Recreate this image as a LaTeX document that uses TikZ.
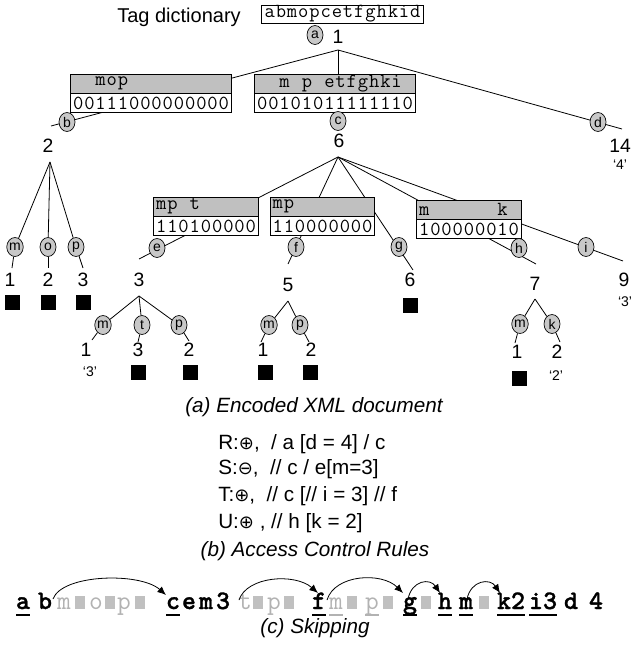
\documentclass[tikz,border=0pt]{standalone}
\usepackage{fontspec}
\setmainfont{Liberation Sans}
\newfontfamily\symf{DejaVu Sans}
\newfontfamily\rowbf{lmmonolt10-bold.otf}[FakeBold=1.2]
\usetikzlibrary{shapes.geometric,arrows.meta}
\pgfdeclarelayer{bg}
\pgfsetlayers{bg,main}
\definecolor{ellg}{RGB}{200,200,200}
\definecolor{hdrg}{RGB}{192,192,192}
\definecolor{lig}{RGB}{178,178,178}
\definecolor{sqg}{RGB}{192,192,192}
\newlength\pitchlen \setlength\pitchlen{8.4pt}
\def\spc#1{\spci#1\relax}
\def\spci#1{\ifx\relax#1\else\makebox[\pitchlen][c]{\ifx.#1\else#1\fi}\expandafter\spci\fi}
\newcommand\oplu{{\symf\fontsize{13.5}{13.5}\selectfont ⊕}}
\newcommand\omin{{\symf\fontsize{13.5}{13.5}\selectfont ⊖}}
\tikzset{
 lbl/.style={font=\fontsize{14.5}{14.5}\selectfont, inner sep=0pt},
 qlbl/.style={font=\fontsize{10.5}{10.5}\selectfont, inner sep=0pt},
 ell/.style={ellipse, draw, fill=ellg, line width=0.5pt, minimum width=12pt, minimum height=14.25pt, inner sep=0pt, font=\fontsize{10.5}{10.5}\selectfont},
 hdr/.style={draw, fill=hdrg, line width=0.7pt, inner xsep=1.5pt, inner ysep=0pt, minimum height=14.25pt, font=\ttfamily\fontsize{15}{15}\selectfont},
 bitsbox/.style={draw, fill=white, line width=0.7pt, inner xsep=1.5pt, inner ysep=0pt, minimum height=14.25pt, font=\ttfamily\fontsize{15}{15}\selectfont, anchor=north},
 dictbox/.style={draw, fill=white, line width=0.7pt, inner xsep=2pt, inner ysep=0pt, minimum height=13.5pt, font=\ttfamily\fontsize{15}{15}\selectfont},
 blk/.style={fill=black, minimum size=11.25pt, inner sep=0pt},
 edgeln/.style={line width=0.6pt},
 captxt/.style={font=\itshape\fontsize{15.5}{15.5}\selectfont, anchor=base, inner sep=0pt},
 ruletxt/.style={font=\fontsize{15.5}{15.5}\selectfont, anchor=base west, inner sep=0pt},
 rowch/.style={font=\rowbf\fontsize{20}{20}\selectfont, anchor=base, inner xsep=0.5pt, inner ysep=0pt},
 rowgr/.style={font=\ttfamily\fontsize{20}{20}\selectfont, text=lig, anchor=base, inner xsep=0.5pt, inner ysep=0pt},
 gsq/.style={fill=sqg, minimum width=7.5pt, minimum height=9.4pt, inner sep=0pt, anchor=south},
 uline/.style={line width=1.9pt, shorten <=0.8pt, shorten >=0.8pt},
 guline/.style={line width=1.4pt, draw=lig, shorten <=0.8pt, shorten >=0.8pt},
 skiparrow/.style={-{Latex[length=6.5pt,width=5.5pt]}, line width=0.6pt},
}
\begin{document}
\begin{tikzpicture}[x=0.75pt,y=-0.75pt]
\useasboundingbox (0,0) rectangle (633,649);
% ---------- top ----------
\node[font=\fontsize{15}{15}\selectfont, anchor=base, inner sep=0pt] (tagtxt) at (179,23) {Tag dictionary};
\node[dictbox] (dict) at (342.5,14) {\spc{abmopcetfghkid}};
\node[ell] (ea) at (315,35) {a};
\node[lbl] (n1) at (338,37) {1};
\coordinate (r) at (338,50);
% level 1 boxes
\node[hdr] (h1) at (151,83.5) {\spc{..mop.........}};
\node[bitsbox] (b1) at (h1.south) {\spc{00111000000000}};
\node[hdr] (h2) at (335,83.5) {\spc{..m.p.etfghki.}};
\node[bitsbox] (b2) at (h2.south) {\spc{00101011111110}};
\node[ell] (eb) at (67,122) {b};
\coordinate (bEnd) at (51,126);
\node[ell] (ec) at (338,121) {c};
\node[ell] (ed) at (598,122) {d};
\coordinate (dEnd) at (622,129);
\node[lbl] (n2) at (48,146) {2};
\node[lbl] (n6) at (339,141) {6};
\node[lbl] (n14) at (620,146) {14};
\node[qlbl] (q4) at (620,165) {‘4’};
% under 2
\coordinate (ap2) at (50,162);
\node[ell] (em1) at (15,247) {m};
\node[ell] (eo1) at (48,247) {o};
\node[ell] (ep1) at (76,247) {p};
\coordinate (m1e) at (12,268);
\coordinate (o1e) at (48,268);
\coordinate (p1e) at (83,268);
\node[lbl] (l1a) at (10,280) {1};
\node[lbl] (l1b) at (48,280) {2};
\node[lbl] (l1c) at (83,280) {3};
\node[blk] (s1a) at (12,302) {};
\node[blk] (s1b) at (48,302) {};
\node[blk] (s1c) at (83,302) {};
% under 6
\coordinate (ap6) at (338,157);
\node[hdr] (h3) at (206,206.5) {\spc{mp.t.....}};
\node[bitsbox] (b3) at (h3.south) {\spc{110100000}};
\node[hdr] (h4) at (322.5,206.5) {\spc{mp.......}};
\node[bitsbox] (b4) at (h4.south) {\spc{110000000}};
\node[hdr] (h5) at (469,209.5) {\spc{m......k.}};
\node[bitsbox] (b5) at (h5.south) {\spc{100000010}};
\node[ell] (ee) at (157,248) {e};
\node[ell] (ef) at (296,247) {f};
\node[ell] (eg) at (399,247) {g};
\node[ell] (eh) at (519,248) {h};
\node[ell] (ei) at (586,247) {i};
\coordinate (eEnd) at (139,259);
\coordinate (fEnd) at (288,264);
\coordinate (gEnd) at (413,270);
\coordinate (hEnd) at (536,264);
\coordinate (iEnd) at (623,261);
\node[lbl] (n3) at (139,280) {3};
\node[lbl] (n5) at (288,285) {5};
\node[lbl] (n6b) at (410,280) {6};
\node[lbl] (n7) at (535,284) {7};
\node[lbl] (n9) at (624,280) {9};
\node[qlbl] (q3b) at (625,302) {‘3’};
\node[blk] (s6) at (410,305) {};
% under 3
\coordinate (ap3) at (139,296);
\node[ell] (em2) at (103,325) {m};
\node[ell] (et2) at (142,325) {t};
\node[ell] (ep2) at (179,325) {p};
\coordinate (m2e) at (92,340);
\coordinate (t2e) at (138,342);
\coordinate (p2e) at (189,341);
\node[lbl] (l3a) at (86,350) {1};
\node[lbl] (l3b) at (138,350) {3};
\node[lbl] (l3c) at (189,350) {2};
\node[qlbl] (q3a) at (90,372) {‘3’};
\node[blk] (s3b) at (138,372) {};
\node[blk] (s3c) at (190,372) {};
% under 5
\coordinate (ap5) at (288,301);
\node[ell] (em3) at (269,325) {m};
\node[ell] (ep3) at (300,325) {p};
\coordinate (m3e) at (261,342);
\coordinate (p3e) at (309,342);
\node[lbl] (l5a) at (263,350) {1};
\node[lbl] (l5b) at (311,350) {2};
\node[blk] (s5a) at (265,372) {};
\node[blk] (s5b) at (310,372) {};
% under 7
\coordinate (ap7) at (535,299);
\node[ell] (em4) at (520,324) {m};
\node[ell] (ek4) at (552,324) {k};
\coordinate (m4e) at (515,343);
\coordinate (k4e) at (560,342);
\node[lbl] (l7a) at (517,352) {1};
\node[lbl] (l7b) at (557,352) {2};
\node[blk] (s7a) at (519,378) {};
\node[qlbl] (q2) at (556,376) {‘2’};
% ---------- edges ----------
\begin{pgfonlayer}{bg}
\draw[edgeln] (r) -- (bEnd);
\draw[edgeln] (r) -- (ec);
\draw[edgeln] (r) -- (dEnd);
\draw[edgeln] (ap2) -- (em1);
\draw[edgeln] (ap2) -- (eo1);
\draw[edgeln] (ap2) -- (ep1);
\draw[edgeln] (em1) -- (m1e);
\draw[edgeln] (eo1) -- (o1e);
\draw[edgeln] (ep1) -- (p1e);
\draw[edgeln] (ap6) -- (eEnd);
\draw[edgeln] (ap6) -- (fEnd);
\draw[edgeln] (ap6) -- (gEnd);
\draw[edgeln] (ap6) -- (hEnd);
\draw[edgeln] (ap6) -- (iEnd);
\draw[edgeln] (ap3) -- (em2);
\draw[edgeln] (ap3) -- (et2);
\draw[edgeln] (ap3) -- (ep2);
\draw[edgeln] (em2) -- (m2e);
\draw[edgeln] (et2) -- (t2e);
\draw[edgeln] (ep2) -- (p2e);
\draw[edgeln] (ap5) -- (em3);
\draw[edgeln] (ap5) -- (ep3);
\draw[edgeln] (em3) -- (m3e);
\draw[edgeln] (ep3) -- (p3e);
\draw[edgeln] (ap7) -- (em4);
\draw[edgeln] (ap7) -- (ek4);
\draw[edgeln] (em4) -- (m4e);
\draw[edgeln] (ek4) -- (k4e);
\end{pgfonlayer}
% ---------- captions and rules ----------
\node[captxt] (capa) at (314,412) {(a) Encoded XML document};
\node[ruletxt] (ruleR) at (218,449) {R:\oplu,\ \ / a [d = 4] / c};
\node[ruletxt] (ruleS) at (218,474) {S:\omin,\ \ // c / e[m=3]};
\node[ruletxt] (ruleT) at (218,501) {T:\oplu,\ \ // c [// i = 3] // f};
\node[ruletxt] (ruleU) at (218,528) {U:\oplu\ , // h [k = 2]};
\node[captxt] (capb) at (315,556) {(b) Access Control Rules};
% ---------- skipping row ----------
\coordinate (ul) at (0,615);
\node[rowch] (ra) at (23,609) {a};
\node[rowch] (rb) at (45,609) {b};
\node[rowgr] (rm1) at (64,609) {m};
\node[gsq] (q1) at (80,609) {};
\node[rowgr] (ro1) at (96,609) {o};
\node[gsq] (q2s) at (110,609) {};
\node[rowgr] (rp1) at (124,609) {p};
\node[gsq] (q3s) at (140,609) {};
\node[rowch] (rc) at (173,609) {c};
\node[rowch] (re) at (189,609) {e};
\node[rowch] (rm2) at (206,609) {m};
\node[rowch] (r3) at (223,609) {3};
\node[rowgr] (rt) at (245,609) {t};
\node[gsq] (q4s) at (258,609) {};
\node[rowgr] (rp2) at (274,609) {p};
\node[gsq] (q5s) at (289,609) {};
\node[rowch] (rf) at (319,609) {f};
\node[rowgr] (rm3) at (336,609) {m};
\node[gsq] (q6s) at (352,609) {};
\node[rowgr] (rp3) at (372,609) {p};
\node[gsq] (q7s) at (388,609) {};
\node[rowch] (rg) at (410,609) {g};
\node[gsq] (q8s) at (426,609) {};
\node[rowch] (rh) at (445,609) {h};
\node[rowch] (rm4) at (466,609) {m};
\node[gsq] (q9s) at (484,609) {};
\node[rowch] (rk) at (511,609) {k2};
\node[rowch] (ri) at (543,609) {i3};
\node[rowch] (rd) at (571,609) {d};
\node[rowch] (r4) at (596,609) {4};
\foreach \n in {ra,rc,rf,rg,rh,rm4,rk,ri}
  \draw[uline] (\n.west|-ul) -- (\n.east|-ul);
\foreach \n in {rm3,rp3}
  \draw[guline] (\n.west|-ul) -- (\n.east|-ul);
\coordinate (a1s) at (53,599); \coordinate (a1e) at (166,595);
\coordinate (a2s) at (239,600); \coordinate (a2e) at (318,593);
\coordinate (a3s) at (327,600); \coordinate (a3e) at (403,593);
\coordinate (a4s) at (408,599); \coordinate (a4e) at (440,593);
\coordinate (a5s) at (467,599); \coordinate (a5e) at (500,593);
\draw[skiparrow] (a1s) .. controls (62,574) and (140,572) .. (a1e);
\draw[skiparrow] (a2s) .. controls (247,576) and (295,573) .. (a2e);
\draw[skiparrow] (a3s) .. controls (335,574) and (382,572) .. (a3e);
\draw[skiparrow] (a4s) .. controls (412,580) and (430,578) .. (a4e);
\draw[skiparrow] (a5s) .. controls (471,580) and (490,578) .. (a5e);
\node[captxt] (capc) at (315,633) {(c) Skipping};
\end{tikzpicture}
\end{document}
